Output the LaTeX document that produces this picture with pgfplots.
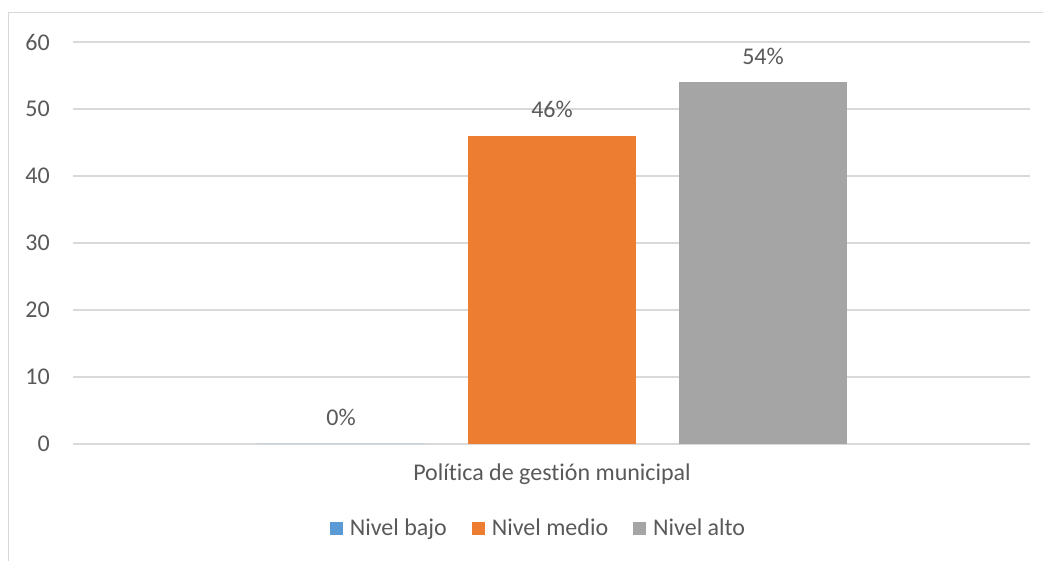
\documentclass[border=0pt]{standalone}
\usepackage{pgfplots}
\pgfplotsset{compat=1.18}
\usepackage{fontspec}
\setmainfont{Carlito}[Ligatures={NoCommon}]
\definecolor{cblue}{HTML}{5B9BD5}
\definecolor{corange}{HTML}{ED7D31}
\definecolor{cgray}{HTML}{A5A5A5}
\definecolor{ctext}{HTML}{595959}
\definecolor{cgrid}{HTML}{D9D9D9}
\begin{document}
\begin{tikzpicture}[font=\fontsize{24}{28}\selectfont]
\path[use as bounding box] (0,0) rectangle (1043pt,561pt);
\draw[cgrid, line width=1.3pt] (8.5pt,-5pt) -- (8.5pt,548.5pt) -- (1060pt,548.5pt);
\begin{axis}[
  at={(73pt,117pt)}, anchor=south west,
  scale only axis, width=957pt, height=402pt,
  ybar=43pt, bar width=168pt,
  xmin=-2.270, xmax=2.265,
  ymin=0, ymax=60, ytick={0,10,...,60},
  xtick={0}, xticklabels={Política de gestión municipal},
  axis line style={draw=none},
  major tick length=0pt,
  ymajorgrids, major grid style={cgrid, line width=1.3pt},
  /pgf/number format/assume math mode=true,
  tick label style={font=\fontsize{24}{28}\selectfont, text=ctext},
  yticklabel style={anchor=east, inner sep=0pt, xshift=-23pt},
  xticklabel style={anchor=base, inner sep=0pt, yshift=-37pt},
  nodes near coords={\pgfmathprintnumber{\pgfplotspointmeta}\%},
  nodes near coords style={anchor=base, inner sep=0pt, yshift=18pt, text=ctext, font=\fontsize{24}{28}\selectfont},
  legend columns=3,
  legend style={at={(0.4864,-0.209)}, anchor=center, draw=none, fill=none,
    font=\fontsize{24}{28}\selectfont, text=ctext,
    /tikz/every odd column/.append style={column sep=5pt},
    /tikz/every even column/.append style={column sep=23pt},
    inner sep=0pt},
  legend image code/.code={\fill[#1] (0pt,-6.5pt) rectangle (13pt,6.5pt);},
]
\addplot[fill=cblue, draw=none] coordinates {(0,0)};
\addplot[fill=corange, draw=none] coordinates {(0,46)};
\addplot[fill=cgray, draw=none] coordinates {(0,54)};
\legend{Nivel bajo, Nivel medio, Nivel alto}
\end{axis}
\end{tikzpicture}
\end{document}
